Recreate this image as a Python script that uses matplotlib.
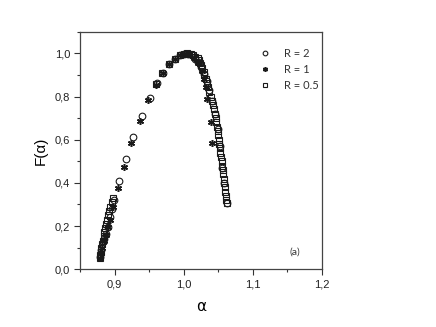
import numpy as np
import matplotlib
matplotlib.use('Agg')
import matplotlib.pyplot as plt
from matplotlib.ticker import MultipleLocator, FuncFormatter

# R = 2 (open circles)
alpha_r2 = [0.879, 0.881, 0.884, 0.887, 0.890, 0.893, 0.896, 0.899, 0.907, 0.916,
            0.927, 0.939, 0.951, 0.961, 0.970, 0.979, 0.987, 0.994, 1.000,
            1.006, 1.012, 1.017, 1.021, 1.025, 1.029, 1.033, 1.037, 1.041, 1.045,
            1.049, 1.052, 1.056, 1.058, 1.062]
f_r2 = [0.055, 0.090, 0.140, 0.165, 0.197, 0.240, 0.278, 0.320, 0.410, 0.510,
        0.611, 0.710, 0.795, 0.861, 0.910, 0.950, 0.975, 0.990, 0.998,
        0.999, 0.990, 0.975, 0.958, 0.935, 0.905, 0.870, 0.830, 0.780, 0.720,
        0.650, 0.570, 0.470, 0.400, 0.308]

# R = 1 (asterisks)
alpha_r1 = [0.879, 0.880, 0.882, 0.884, 0.887, 0.890, 0.893, 0.897, 0.905, 0.913,
            0.924, 0.937, 0.949, 0.960, 0.970, 0.979, 0.987, 0.994, 1.001,
            1.008, 1.015, 1.021, 1.026, 1.030, 1.032, 1.034, 1.040, 1.041]
f_r1 = [0.050, 0.075, 0.100, 0.130, 0.160, 0.195, 0.230, 0.290, 0.375, 0.475,
        0.583, 0.688, 0.784, 0.853, 0.907, 0.950, 0.975, 0.990, 0.999,
        0.997, 0.980, 0.955, 0.920, 0.880, 0.845, 0.787, 0.683, 0.586]

# R = 0.5 (open squares)
alpha_r05 = [0.879, 0.8795, 0.880, 0.881, 0.882, 0.883, 0.884, 0.885, 0.8865, 0.888,
             0.889, 0.891, 0.8925, 0.894, 0.896, 0.898,
             0.960, 0.969, 0.979, 0.987, 0.994, 1.000,
             1.005, 1.008, 1.011, 1.014, 1.017, 1.020, 1.022, 1.0235, 1.025, 1.027,
             1.029, 1.030, 1.032, 1.0335, 1.035, 1.0365, 1.039, 1.0405, 1.042, 1.0435,
             1.045, 1.046, 1.047, 1.048, 1.049, 1.050, 1.0505, 1.051, 1.052, 1.053,
             1.054, 1.055, 1.056, 1.0565, 1.057, 1.058, 1.0585, 1.059, 1.060, 1.061,
             1.0615, 1.062]
f_r05 = [0.050, 0.065, 0.080, 0.097, 0.115, 0.133, 0.152, 0.171, 0.190, 0.210,
         0.230, 0.250, 0.270, 0.290, 0.310, 0.330,
         0.858, 0.910, 0.950, 0.975, 0.990, 0.998,
         1.000, 0.998, 0.995, 0.990, 0.984, 0.976, 0.967, 0.956, 0.944, 0.930,
         0.915, 0.898, 0.880, 0.861, 0.842, 0.822, 0.800, 0.780, 0.760, 0.740,
         0.720, 0.700, 0.680, 0.660, 0.640, 0.620, 0.600, 0.580, 0.560, 0.540,
         0.520, 0.500, 0.480, 0.460, 0.440, 0.420, 0.400, 0.380, 0.360, 0.340,
         0.320, 0.308]

labels = ['R = 2', 'R = 1', 'R = 0.5']

fig = plt.figure(figsize=(4.36, 3.27), dpi=100)
ax = fig.add_axes([0.1835, 0.1765, 0.555, 0.7265])

ax.plot(alpha_r2, f_r2, ls='none', marker='o', ms=4.8, mfc='none', mec='#1a1a1a',
        mew=0.8, label=labels[0])
ax.plot(alpha_r1, f_r1, ls='none', marker=(6, 2, 0), ms=5.0, mec='#1a1a1a',
        mew=1.1, label=labels[1])
ax.plot(alpha_r05, f_r05, ls='none', marker='s', ms=4.3, mfc='none', mec='#1a1a1a',
        mew=0.8, label=labels[2])

ax.set_xlim(0.85, 1.2)
ax.set_ylim(0.0, 1.1)

ax.xaxis.set_major_locator(MultipleLocator(0.1))
ax.xaxis.set_minor_locator(MultipleLocator(0.05))
ax.yaxis.set_major_locator(MultipleLocator(0.2))
ax.yaxis.set_minor_locator(MultipleLocator(0.1))
comma = FuncFormatter(lambda v, p: ('%.1f' % v).replace('.', ','))
ax.xaxis.set_major_formatter(comma)
ax.yaxis.set_major_formatter(comma)

ax.tick_params(which='both', direction='out', top=False, right=False,
               colors='#333333', labelcolor='#222222', labelsize=8, width=0.8)
ax.tick_params(which='major', length=4, pad=3)
ax.tick_params(which='minor', length=2.5)
for sp in ax.spines.values():
    sp.set_linewidth(0.9)
    sp.set_color('#444444')
for lab in ax.get_xticklabels() + ax.get_yticklabels():
    lab.set_family('Liberation Sans')

ax.set_xlabel('α', fontsize=11, family='DejaVu Sans', labelpad=7)
ax.set_ylabel('F(α)', fontsize=11, family='Liberation Sans', labelpad=5)

leg = ax.legend(loc='upper left', bbox_to_anchor=(0.70, 0.975), frameon=False,
                handlelength=1.0, handletextpad=1.2, labelspacing=0.45,
                prop={'family': 'Lato', 'size': 8}, markerscale=0.7)
for t in leg.get_texts():
    t.set_color('#333333')

ax.text(0.865, 0.06, '(a)', transform=ax.transAxes, fontsize=7.5,
        family='Lato', color='#333333')

fig.savefig('out.png', dpi=100)
